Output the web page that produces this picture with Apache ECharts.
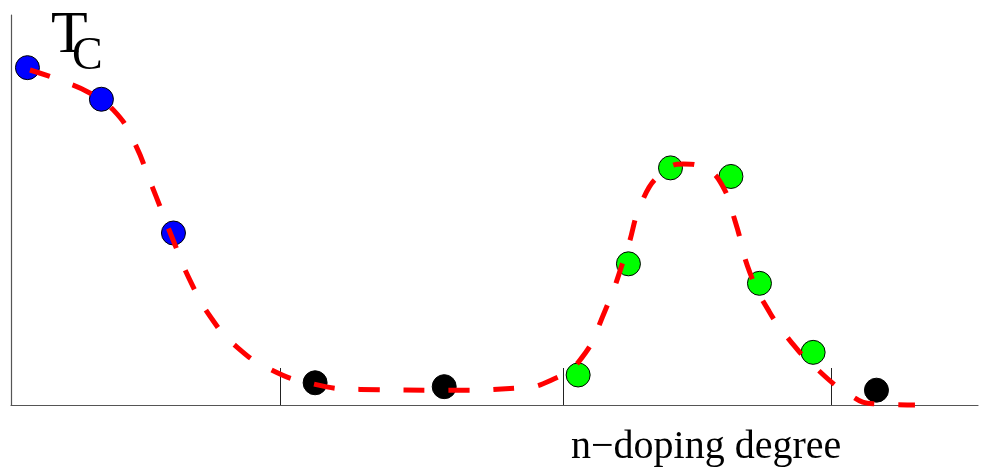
<!DOCTYPE html>
<html>
<head>
<meta charset="utf-8">
<script src="https://cdn.jsdelivr.net/npm/echarts@6/dist/echarts.min.js"></script>
<style>html,body{margin:0;padding:0;background:#fff;}#c{width:981px;height:475px;}</style>
</head>
<body>
<div id="c"></div>
<script>
// Data (x: doping position 0-100, y: Tc, arbitrary 0-100)
const bluePoints = [[1.70, 86.5], [9.35, 78.4], [16.80, 44.1]];
const blackPoints = [[31.45, 5.7], [44.80, 4.7], [89.50, 3.8]];
const greenPoints = [[58.65, 7.7], [63.85, 36.2], [68.20, 60.8], [74.45, 58.6], [77.40, 31.2], [82.95, 13.5]];
const fitCurve = [
  [1.96, 85.9], [5.38, 83.0], [8.30, 79.8], [10.60, 75.6], [12.50, 68.6], [14.60, 56.0],
  [16.65, 43.0], [18.70, 31.0], [20.80, 22.0], [23.20, 15.2], [26.78, 9.2], [31.23, 5.4],
  [36.09, 4.0], [45.40, 3.8], [52.64, 4.4], [55.80, 6.3], [58.84, 11.5], [61.40, 24.0],
  [63.60, 39.0], [65.40, 53.0], [67.50, 59.8], [69.50, 61.8], [71.87, 60.5], [73.53, 56.4],
  [74.90, 47.0], [76.40, 34.0], [78.40, 24.0], [80.60, 16.4], [83.14, 9.7], [86.76, 2.6],
  [89.20, 0.3], [93.48, 0.0]
];
const regionBoundaries = [27.82, 57.11, 84.80];
const yLabel = 'T';
const ySub = 'C';
const xLabel = 'n\u2212doping degree';

const chart = echarts.init(document.getElementById('c'), null, {renderer: 'canvas'});
const dot = (color, data) => ({
  type: 'scatter', data, symbol: 'circle', symbolSize: 24, z: 2,
  itemStyle: {color, borderColor: '#000', borderWidth: 1, opacity: 1},
  emphasis: {disabled: true}
});
chart.setOption({
  animation: false,
  backgroundColor: '#fff',
  grid: {left: 11, right: 3, top: 15, bottom: 70},
  xAxis: {
    type: 'value', min: 0, max: 100,
    splitLine: {show: false},
    axisLine: {show: true, onZero: false, lineStyle: {color: '#555', width: 1.2}},
    axisLabel: {show: false},
    axisTick: {show: true, inside: true, length: 37, customValues: regionBoundaries, lineStyle: {color: '#222', width: 1}}
  },
  yAxis: {
    type: 'value', min: 0, max: 100,
    splitLine: {show: false},
    axisLine: {show: true, lineStyle: {color: '#555', width: 1.2}},
    axisLabel: {show: false},
    axisTick: {show: false}
  },
  series: [
    dot('#0000ff', bluePoints),
    dot('#000000', blackPoints),
    dot('#00ff00', greenPoints),
    {
      type: 'line', data: fitCurve, smooth: 0.5, showSymbol: false, z: 5, clip: false,
      lineStyle: {color: '#ff0000', width: 5, type: [21, 24], cap: 'butt'},
      emphasis: {disabled: true}
    }
  ],
  graphic: [
    {type: 'text', left: 51, top: 6, style: {text: yLabel, font: '60px "Liberation Serif", serif', fill: '#000'}},
    {type: 'text', left: 72, top: 34, style: {text: ySub, font: '46px "Liberation Serif", serif', fill: '#000'}},
    {type: 'text', left: 571, top: 427, style: {text: xLabel, font: '40px "Liberation Serif", serif', fill: '#000'}}
  ]
});
</script>
</body>
</html>
